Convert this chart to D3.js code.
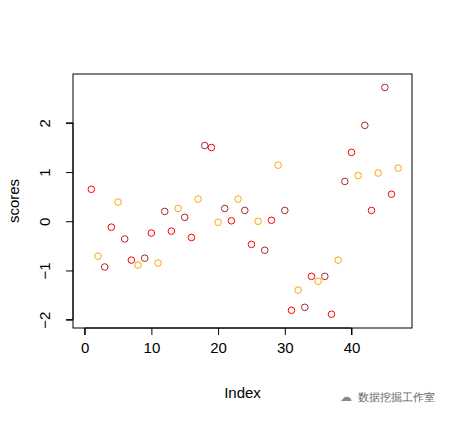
<!DOCTYPE html><html><head><meta charset="utf-8"><script src="https://cdn.jsdelivr.net/npm/d3@7"></script>
<style>body{margin:0;background:#fff}text{font-family:"Liberation Sans",Arial,sans-serif}</style></head><body>
<script>
const scores=[0.65,-0.71,-0.93,-0.12,0.39,-0.36,-0.79,-0.89,-0.75,-0.24,-0.85,0.20,-0.20,0.26,0.08,-0.33,0.45,1.54,1.50,-0.02,0.26,0.01,0.45,0.22,-0.47,0.0,-0.59,0.02,1.14,0.22,-1.81,-1.40,-1.75,-1.12,-1.22,-1.12,-1.89,-0.79,0.81,1.40,0.93,1.95,0.22,0.98,2.72,0.55,1.08];
const colors=["#FF0000","#FFA500","#A52A2A"];
const xTicks=[0,10,20,30,40], yTicks=[-2,-1,0,1,2];
const svg=d3.select("body").append("svg").attr("width",453).attr("height",422);
const L=73,R=412,T=74,B=328;
const x=d3.scaleLinear().domain([-1.75,49.07]).range([L,R]);
const y=d3.scaleLinear().domain([-2.17,2.994]).range([B,T]);
svg.append("rect").attr("x",L).attr("y",T).attr("width",R-L).attr("height",B-T).attr("fill","none").attr("stroke","#000");
svg.append("g").attr("transform",`translate(0,${B})`).call(d3.axisBottom(x).tickValues(xTicks).tickSize(7).tickPadding(7))
 .call(g=>{g.select(".domain").attr("d",`M${x(0)},7V0H${x(40)}V7`);g.selectAll("text").attr("font-size",15).attr("fill","#000");});
const ya=svg.append("g").attr("transform",`translate(${L},0)`).call(d3.axisLeft(y).tickValues(yTicks).tickSize(7).tickFormat(d3.format("d")));
ya.select(".domain").attr("d",`M-7,${y(-2)}H0V${y(2)}H-7`);
ya.selectAll("text").attr("font-size",15).attr("fill","#000").attr("text-anchor","middle").attr("x",0).attr("dy",0)
 .attr("transform","translate(-23,0) rotate(-90)");
svg.selectAll("circle").data(scores).join("circle").attr("cx",(d,i)=>x(i+1)).attr("cy",d=>y(d)).attr("r",3.3)
 .attr("fill","none").attr("stroke",(d,i)=>colors[i%3]).attr("stroke-width",1);
svg.append("text").attr("x",(L+R)/2).attr("y",398).attr("text-anchor","middle").attr("font-size",15).text("Index");
svg.append("text").attr("transform",`translate(19,${(T+B)/2}) rotate(-90)`).attr("text-anchor","middle").attr("font-size",15).text("scores");
svg.append("text").attr("x",358).attr("y",401).attr("font-size",11).attr("fill","#666").attr("font-family","Noto Sans CJK SC").text("数据挖掘工作室");
svg.append("text").attr("x",340).attr("y",401).attr("font-size",12).attr("fill","#888").text("☁");
</script></body></html>
